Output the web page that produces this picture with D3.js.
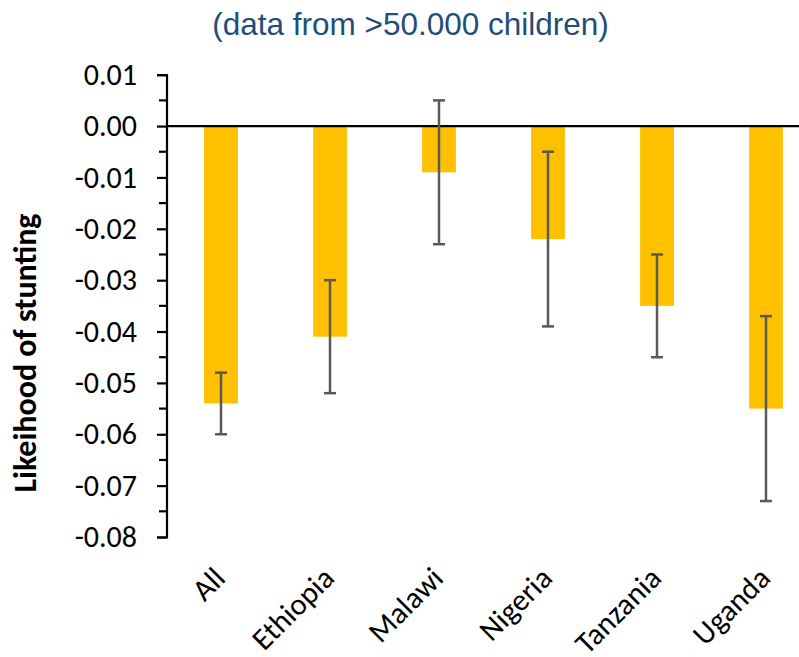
<!DOCTYPE html>
<html><head><meta charset="utf-8">
<script src="https://cdn.jsdelivr.net/npm/d3@7"></script>
<style>body{margin:0;background:#fff}svg{display:block}</style>
</head><body>
<script>
const categories = ["All","Ethiopia","Malawi","Nigeria","Tanzania","Uganda"];
const values = [-0.054,-0.041,-0.009,-0.022,-0.035,-0.055];
const errHigh = [-0.048,-0.030,0.005,-0.005,-0.025,-0.037];
const errLow = [-0.060,-0.052,-0.023,-0.039,-0.045,-0.073];
const yTicks = [0.01,0,-0.01,-0.02,-0.03,-0.04,-0.05,-0.06,-0.07,-0.08];
const title = "(data from >50.000 children)";
const yTitle = "Likeihood of stunting";

const W = 799, H = 657;
const svg = d3.select("body").append("svg").attr("width",W).attr("height",H);
const font = "Calibri, Carlito, Lato, 'Liberation Sans', sans-serif";

const x = d3.scaleBand().domain(categories).range([166.5, 820.5]).paddingInner(0.69).paddingOuter(0.345);
const y = d3.scaleLinear().domain([-0.08, 0.01]).range([537, 74.7]);

// bars
svg.append("g").selectAll("rect").data(categories).join("rect")
  .attr("x", d => x(d))
  .attr("width", x.bandwidth())
  .attr("y", y(0))
  .attr("height", (d,i) => y(values[i]) - y(0))
  .attr("fill", "#FFC000");

// y axis
const yAxis = d3.axisLeft(y).tickValues(yTicks).tickSize(9.5).tickPadding(20)
  .tickFormat(d => d3.format(".2f")(d).replace("−","-"));
const ga = svg.append("g").attr("transform","translate(166.5,0)").call(yAxis);
ga.select(".domain").attr("stroke","#000").attr("stroke-width",2.2);
ga.selectAll(".tick line").attr("stroke","#000").attr("stroke-width",2.2);
ga.selectAll(".tick text").attr("font-family",font).attr("font-size",30).attr("fill","#000");
// minor ticks
const minor = d3.range(0, 9).map(i => 0.005 - i*0.01);
svg.append("g").selectAll("line").data(minor).join("line")
  .attr("x1",159).attr("x2",166.5).attr("y1",d=>y(d)).attr("y2",d=>y(d))
  .attr("stroke","#000").attr("stroke-width",2.2);

// zero line
svg.append("line").attr("x1",166.5).attr("x2",W).attr("y1",y(0)).attr("y2",y(0))
  .attr("stroke","#000").attr("stroke-width",2.2);

// error bars
const eg = svg.append("g").attr("stroke","#595959").attr("stroke-width",2.5);
categories.forEach((c,i) => {
  const cx = x(c) + x.bandwidth()/2;
  eg.append("line").attr("x1",cx).attr("x2",cx).attr("y1",y(errHigh[i])).attr("y2",y(errLow[i]));
  eg.append("line").attr("x1",cx-6).attr("x2",cx+6).attr("y1",y(errHigh[i])).attr("y2",y(errHigh[i]));
  eg.append("line").attr("x1",cx-6).attr("x2",cx+6).attr("y1",y(errLow[i])).attr("y2",y(errLow[i]));
});

// x labels
svg.append("g").selectAll("text").data(categories).join("text")
  .attr("transform", d => `translate(${x(d)+x.bandwidth()/2+6},580) rotate(-45)`)
  .attr("text-anchor","end")
  .attr("font-family",font).attr("font-size",30.5).attr("fill","#000")
  .text(d => d);

// title
svg.append("text").attr("x",410.5).attr("y",35).attr("text-anchor","middle")
  .attr("font-family","Arial, 'Liberation Sans', sans-serif").attr("font-size",31.5)
  .attr("fill","#1F4E79").text(title);

// y title
svg.append("text").attr("transform","translate(36,353) rotate(-90)")
  .attr("text-anchor","middle").attr("font-family",font).attr("font-weight","bold")
  .attr("font-size",32).attr("fill","#000").text(yTitle);
</script>
</body></html>
